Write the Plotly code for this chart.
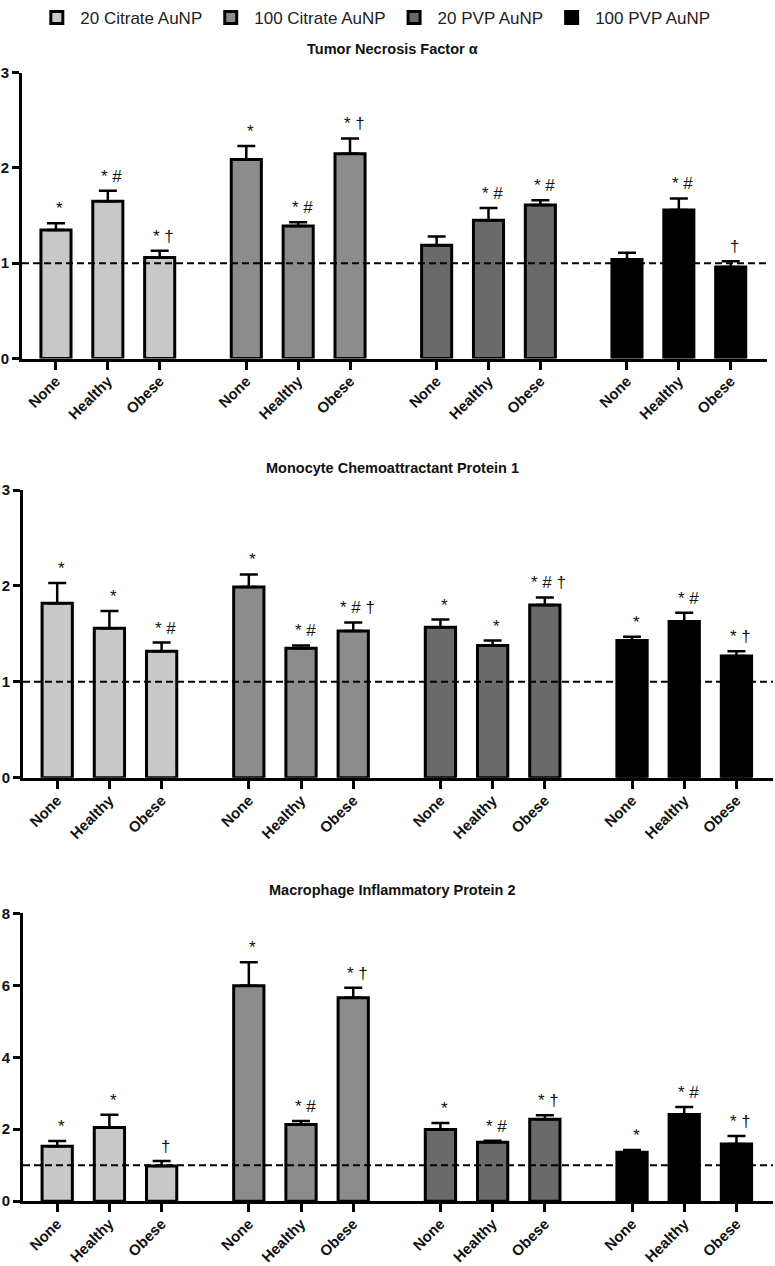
import plotly.graph_objects as go
from plotly.subplots import make_subplots

# ---------------- data ----------------
GROUPS = ["20 Citrate AuNP", "100 Citrate AuNP", "20 PVP AuNP", "100 PVP AuNP"]
CONDITIONS = ["None", "Healthy", "Obese"]
COLORS = ["#c8c8c8", "#8c8c8c", "#6a6a6a", "#000000"]

PANEL_TITLES = ["Tumor Necrosis Factor α",
                "Monocyte Chemoattractant Protein 1",
                "Macrophage Inflammatory Protein 2"]

TNF_MEAN = [[1.35, 1.65, 1.06], [2.09, 1.39, 2.15], [1.19, 1.45, 1.61], [1.04, 1.56, 0.96]]
TNF_ERR = [[0.07, 0.11, 0.07], [0.14, 0.04, 0.16], [0.09, 0.13, 0.05], [0.07, 0.12, 0.06]]
TNF_SIG = [["*", "* #", "* †"], ["*", "* #", "* †"], ["", "* #", "* #"], ["", "* #", "†"]]

MCP1_MEAN = [[1.82, 1.56, 1.32], [1.99, 1.35, 1.53], [1.57, 1.38, 1.80], [1.43, 1.63, 1.27]]
MCP1_ERR = [[0.21, 0.18, 0.09], [0.13, 0.03, 0.09], [0.08, 0.05, 0.08], [0.04, 0.09, 0.05]]
MCP1_SIG = [["*", "*", "* #"], ["*", "* #", "* # †"], ["*", "*", "* # †"], ["*", "* #", "* †"]]

MIP2_MEAN = [[1.53, 2.05, 0.98], [5.99, 2.13, 5.65], [1.99, 1.64, 2.28], [1.36, 2.41, 1.59]]
MIP2_ERR = [[0.14, 0.35, 0.14], [0.65, 0.10, 0.28], [0.18, 0.04, 0.11], [0.06, 0.21, 0.22]]
MIP2_SIG = [["*", "*", "†"], ["*", "* #", "* †"], ["*", "* #", "* †"], ["*", "* #", "* †"]]

Y_RANGES = [[0, 3], [0, 3], [0, 8]]
Y_DTICKS = [1, 1, 2]
REFERENCE_LEVEL = 1.0

PANELS = [(TNF_MEAN, TNF_ERR, TNF_SIG),
          (MCP1_MEAN, MCP1_ERR, MCP1_SIG),
          (MIP2_MEAN, MIP2_ERR, MIP2_SIG)]

# ---------------- layout parameters ----------------
W, H = 775, 1266
GROUP_STEP = 3.67
BAR_WIDTH = 0.58
FONT = "Liberation Sans, Arial, Helvetica, sans-serif"

x_domains_px = [(22, 767), (23, 773), (23, 773)]
y_domains_px = [(72.7, 358.5), (490, 777.8), (913.3, 1201.2)]
title_y_px = [49, 468, 890]

positions = [[g * GROUP_STEP + i for i in range(len(CONDITIONS))] for g in range(len(GROUPS))]
all_pos = [p for grp in positions for p in grp]
all_labels = CONDITIONS * len(GROUPS)

fig = make_subplots(rows=3, cols=1)

for p, (means, errs, sigs) in enumerate(PANELS):
    row = p + 1
    for g, name in enumerate(GROUPS):
        fig.add_trace(go.Bar(
            x=positions[g], y=means[g], name=name,
            width=BAR_WIDTH,
            marker=dict(color=COLORS[g], line=dict(color="#000000", width=3)),
            error_y=dict(type="data", array=errs[g], symmetric=False,
                         arrayminus=[0] * len(errs[g]),
                         color="#000000", thickness=2.5, width=9),
            legendgroup=name, showlegend=(p == 0),
        ), row=row, col=1)
        for i, s in enumerate(sigs[g]):
            if s:
                fig.add_annotation(
                    x=positions[g][i], y=means[g][i] + errs[g][i],
                    xref=f"x{'' if row == 1 else row}", yref=f"y{'' if row == 1 else row}",
                    text=s, showarrow=False, yanchor="bottom", xanchor="center",
                    xshift=4, yshift=3,
                    font=dict(family=FONT, size=17, color="#111111"))
    fig.add_hline(y=REFERENCE_LEVEL, line=dict(color="#000000", width=2, dash="7px,4px"),
                  row=row, col=1)
    fig.add_annotation(
        x=0.506, y=1 - title_y_px[p] / H, xref="paper", yref="paper",
        text=PANEL_TITLES[p], showarrow=False, xanchor="center", yanchor="middle",
        font=dict(family=FONT, size=14.5, color="#111111", weight="bold"))

    suffix = "" if row == 1 else str(row)
    xd = x_domains_px[p]
    yd = y_domains_px[p]
    fig.update_layout(**{
        f"xaxis{suffix}": dict(
            domain=[xd[0] / W, xd[1] / W], range=[-0.655, 13.71],
            tickmode="array", tickvals=all_pos, ticktext=all_labels,
            tickangle=-45, ticks="outside", ticklen=8, tickwidth=3, tickcolor="#000000",
            ticklabelstandoff=-3,
            showline=True, linewidth=3, linecolor="#000000",
            showgrid=False, zeroline=False, automargin=False,
            tickfont=dict(family=FONT, size=15, color="#111111", weight="bold")),
        f"yaxis{suffix}": dict(
            domain=[1 - yd[1] / H, 1 - yd[0] / H], range=Y_RANGES[p], dtick=Y_DTICKS[p],
            ticks="outside", ticklen=7, tickwidth=3, tickcolor="#000000",
            showline=True, linewidth=3, linecolor="#000000",
            showgrid=False, zeroline=False, automargin=False,
            tickfont=dict(family=FONT, size=15, color="#111111", weight="bold")),
    })

fig.update_layout(
    width=W, height=H, autosize=False,
    margin=dict(l=0, r=0, t=0, b=0),
    paper_bgcolor="#ffffff", plot_bgcolor="#ffffff",
    barmode="overlay",
    font=dict(family=FONT, color="#111111"),
    legend=dict(orientation="h", x=0.043, y=1.0, xanchor="left", yanchor="top",
                font=dict(family=FONT, size=17, color="#222222"),
                traceorder="normal", itemwidth=37, bgcolor="rgba(0,0,0,0)"),
)

fig.write_html("out.html", config={"displayModeBar": False},
               post_script="document.body.style.margin='0';")
